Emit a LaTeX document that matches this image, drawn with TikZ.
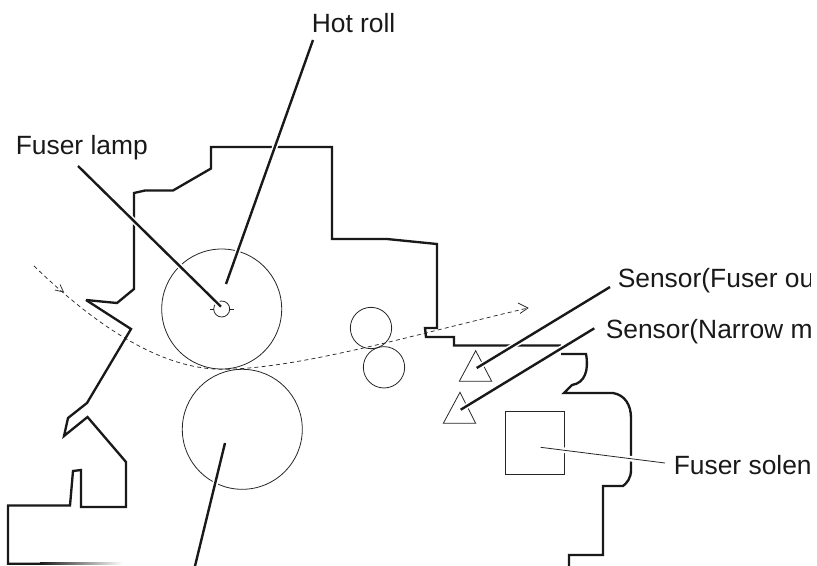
\documentclass[tikz,border=0pt]{standalone}
\usepackage{fontspec}
\setmainfont{Liberation Sans}
\usetikzlibrary{calc}
\tikzset{
  x=0.75pt,y=-0.75pt,
  outline/.style={line width=1.75pt,black!90,line join=miter},
  thin part/.style={line width=0.6pt,black!85},
  halo/.style={white,line width=4.2pt},
  leader/.style={line width=1.8pt,black!90},
  flow/.style={line width=0.55pt,black!85,dash pattern=on 3pt off 2.4pt},
  chevron/.style={line width=0.55pt,black!85},
  lbl/.style={anchor=base west,inner sep=0pt,font=\fontsize{19.8pt}{22pt}\selectfont,text=black!90}
}
\begin{document}
\begin{tikzpicture}
\useasboundingbox (0,0) rectangle (817,565);
\clip (0,0) rectangle (817,565);
% rollers
\node[circle,draw,thin part,minimum size=90pt,inner sep=0pt] (hot) at (221.7,309) {};
\node[circle,draw,thin part,minimum size=90pt,inner sep=0pt] (press) at (242.3,429.3) {};
\node[circle,draw,thin part,minimum size=31pt,inner sep=0pt] (r1) at (371,328) {};
\node[circle,draw,thin part,minimum size=31pt,inner sep=0pt] (r2) at (384,367.3) {};
\node[circle,draw,thin part,minimum size=12pt,inner sep=0pt] (lamp) at (221.7,309) {};
\draw[thin part] (210,309) -- (213.7,309) (229.7,309) -- (233.5,309);
% flow
\coordinate (fs) at (34,266);
\coordinate (fe) at (528,308);
\draw[flow] (fs) .. controls (95,325) and (160,369) .. (222,369.3) .. controls (300,369) and (420,333) .. (fe);
\draw[chevron] (518,303) -- (fe) -- (520,313.5);
\draw[chevron] (60,284.5) -- (63.5,292) -- (55,290);
% triangles
\draw[thin part,line join=miter] (475.7,350.7) -- (459.3,381.3) -- (491.7,381.3) -- cycle;
\draw[thin part,line join=miter] (460,392.3) -- (443.3,423.3) -- (475.7,423.3) -- cycle;
\node[draw,thin part,rectangle,minimum width=44pt,minimum height=47.5pt,inner sep=0pt] (sol) at (534.7,442.7) {};
% outline
\draw[outline] (86,300) -- (117,303) -- (134,289) -- (134,193) -- (145,190.5) -- (173,190.5) -- (211,168.5) -- (211,147) -- (332,147) -- (332,239) -- (387,239) -- (437,244) -- (437,328) -- (425,328) -- (426,337) -- (454,337) -- (454,345.5) -- (561,345.5);
\draw[outline] (86,300) -- (131,329) -- (87,403) -- (68,418) -- (64,436) -- (87.5,417) -- (126,462) -- (126,507) -- (81,507) -- (81,470) -- (73,471) -- (70,505.5) -- (8,505.5) -- (8,563.7) -- (40,563.7);
\fill[left color=black!90,right color=white] (40,562.6) rectangle (123,564.8);
\draw[outline] (561,354) -- (586,354) .. controls (589,370) and (585,383) .. (572,385) -- (564,393) -- (613,393) .. controls (625,395) and (631,405) .. (631,418) -- (631,470) .. controls (631,478) and (627,483) .. (623,486) -- (603,486) -- (603,555) -- (569,555) -- (569,566);
% leaders
\coordinate (a1) at (313,40);   \coordinate (a2) at (226,284);
\coordinate (b1) at (78,166); \coordinate (b2) at (221,306.7);
\coordinate (c1) at (195,566);  \coordinate (c2) at (225,443);
\coordinate (d1) at (610,287);\coordinate (d2) at (476.7,368);
\coordinate (e1) at (594.3,328.3);\coordinate (e2) at (460.7,409.7);
\coordinate (f1) at (665,463);  \coordinate (f2) at (540.7,447.3);
\foreach \p/\q in {a1/a2,b1/b2,c1/c2,d1/d2,e1/e2,f1/f2}{\draw[halo] (\p) -- (\q);}
\draw[leader] (a1) -- (a2);
\draw[leader] (b1) -- (b2);
\draw[leader] (c1) -- (c2);
\draw[leader] (d1) -- (d2);
\draw[leader] (e1) -- (e2);
\draw[thin part] (f1) -- (f2);
% labels
\begin{scope}
\clip (0,0) rectangle (810,565);
\node[lbl] (t1) at (311.5,32.7) {Hot roll};
\node[lbl] (t2) at (15.5,154) {Fuser lamp};
\node[lbl] (t3) at (617.5,287) {Sensor(Fuser ou};
\node[lbl] (t4) at (605.5,338) {Sensor(Narrow m};
\node[lbl] (t5) at (673.5,474.5) {Fuser solen};
\end{scope}
\end{tikzpicture}
\end{document}
